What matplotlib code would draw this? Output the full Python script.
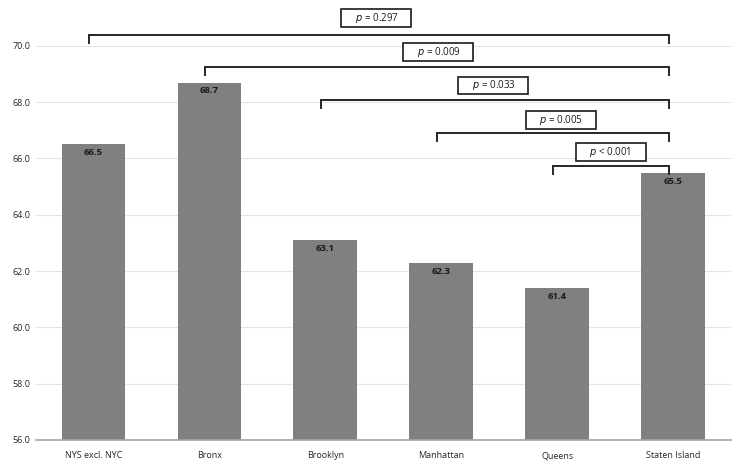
import numpy as np
import matplotlib
matplotlib.use('Agg')
import matplotlib.pyplot as plt

# Data
# ----
categories = ['NYS excl. NYC', 'Bronx', 'Brooklyn', 'Manhattan', 'Queens', 'Staten Island']
values = [66.5, 68.7, 63.1, 62.3, 61.4, 65.5]
# comparisons against Staten Island: (start index, end index, label)
comp_start = [0, 1, 2, 3, 4]
comp_end = [5, 5, 5, 5, 5]
comp_p = ['= 0.297', '= 0.009', '= 0.033', '= 0.005', '< 0.001']
bracket_y = [70.39, 69.25, 68.08, 66.91, 65.74]
label_x = [2.44, 2.97, 3.45, 4.03, 4.46]
label_y = [71.0, 69.79, 68.6, 67.37, 66.23]

plt.rcParams['font.family'] = ['Open Sans', 'DejaVu Sans']

fig = plt.figure(figsize=(7.4, 4.65), dpi=100)
ax = fig.add_axes([0.048, 0.054, 0.94, 0.938])

x = np.arange(len(categories))
ax.bar(x, values, width=0.55, color='#808080', zorder=2)
for xi, v in zip(x, values):
    ax.text(xi, v - 0.3, f'{v:.1f}', ha='center', va='center',
            fontsize=6.8, fontweight='bold', color='#1a1a1a', zorder=3)

# significance brackets
tick = 0.3
for s, e, p, by, lx, ly in zip(comp_start, comp_end, comp_p, bracket_y, label_x, label_y):
    ax.plot([s - 0.04, s - 0.04, e - 0.04, e - 0.04], [by - tick, by, by, by - tick],
            color='#262626', lw=1.4, zorder=3, solid_joinstyle='miter')
    ax.text(lx, ly, '     $\\it{p}$ ' + p + '     ', ha='center', va='center',
            fontsize=7, color='#1a1a1a', zorder=3,
            bbox=dict(boxstyle='square,pad=0.18', fc='white', ec='#1a1a1a', lw=1.2))

ax.set_ylim(56, 71.5)
ax.set_xlim(-0.5, 5.5)
ax.set_yticks(np.arange(56, 70.1, 2))
ax.set_yticklabels([f'{t:.1f}' for t in np.arange(56, 70.1, 2)])
ax.set_xticks(x)
ax.set_xticklabels(categories)
ax.tick_params(axis='both', length=0, labelsize=6.5, colors='#262626')
ax.tick_params(axis='x', pad=8)
ax.grid(axis='y', color='#e3e3e3', lw=0.8, zorder=0)
for side in ['top', 'right', 'left']:
    ax.spines[side].set_visible(False)
ax.spines['bottom'].set_color('#a6a6a6')
ax.spines['bottom'].set_linewidth(1.2)

plt.savefig('out.png', dpi=100)
